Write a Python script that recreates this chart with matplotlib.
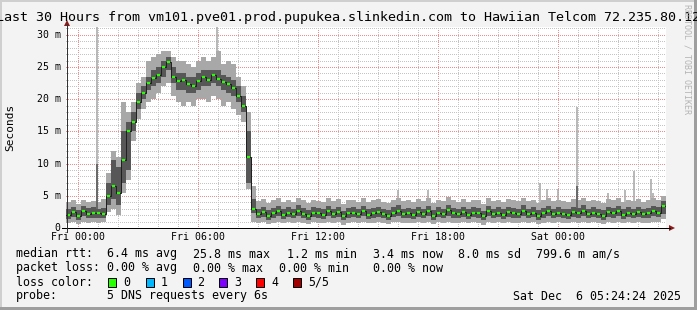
import matplotlib
matplotlib.use('Agg')
import matplotlib.pyplot as plt
import numpy as np
from matplotlib.lines import Line2D
from matplotlib.patches import Polygon, Rectangle

# ---------------- data (15-minute bins, hours relative to Fri 00:00) ----------------
bin_start = -0.6
bin_hours = 0.25

median_ms = [2.0, 2.5, 1.9, 2.6, 2.1, 2.4, 2.3, 2.2,
             5.0, 6.5, 5.5, 10.5, 15.0, 16.5, 19.5, 21.0, 22.5, 23.3,
             23.8, 25.0, 25.8, 23.5, 22.8, 23.0, 22.3, 22.0, 22.8, 23.5,
             23.0, 23.8, 23.2, 22.6, 22.3, 21.8, 20.5, 19.0, 11.0, 3.0,
             2.2, 2.5, 1.9, 2.3, 2.6, 2.0, 2.4, 2.1, 2.7, 2.2,
             1.9, 2.4, 2.3, 2.0, 2.6, 2.2, 2.5, 1.8, 2.3, 2.4,
             2.1, 2.6, 2.0, 2.3, 2.5, 2.2, 1.9, 2.4, 2.7, 2.1,
             2.3, 2.0, 2.5, 2.2, 2.6, 1.9, 2.4, 2.2, 2.8, 2.3,
             2.1, 2.5, 2.0, 2.4, 2.3, 1.8, 2.6, 2.2, 2.4, 2.0,
             2.5, 2.3, 2.1, 2.7, 2.2, 2.4, 1.9, 2.3, 2.6, 2.1,
             2.4, 2.2, 2.0, 2.5, 2.3, 2.7, 2.1, 2.4, 2.2, 1.9,
             2.5, 2.3, 2.6, 2.0, 2.4, 2.2, 2.5, 2.1, 2.3, 2.6,
             2.4, 3.4]

q_low_ms = [1.4, 1.7, 1.3, 1.8, 1.5, 1.6, 1.5, 1.5,
            3.5, 4.5, 3.5, 7.0, 9.0, 15.0, 18.5, 20.0, 21.5, 22.0,
            22.5, 23.5, 24.5, 22.5, 21.5, 21.5, 21.0, 21.0, 21.5, 22.0,
            22.0, 22.5, 22.0, 21.5, 21.0, 20.5, 19.5, 18.0, 7.0, 2.3,
            1.5, 1.7, 1.3, 1.6, 1.8, 1.4, 1.7, 1.5, 1.9, 1.6,
            1.3, 1.7, 1.6, 1.4, 1.8, 1.5, 1.7, 1.3, 1.6, 1.7,
            1.5, 1.8, 1.4, 1.6, 1.7, 1.5, 1.3, 1.7, 1.9, 1.5,
            1.6, 1.4, 1.7, 1.5, 1.8, 1.3, 1.7, 1.5, 1.9, 1.6,
            1.5, 1.7, 1.4, 1.7, 1.6, 1.3, 1.8, 1.5, 1.7, 1.4,
            1.7, 1.6, 1.5, 1.9, 1.5, 1.7, 1.3, 1.6, 1.8, 1.5,
            1.7, 1.5, 1.4, 1.7, 1.6, 1.9, 1.5, 1.7, 1.5, 1.3,
            1.7, 1.6, 1.8, 1.4, 1.7, 1.5, 1.7, 1.5, 1.6, 1.8,
            1.7, 2.2]

q_high_ms = [3.0, 3.3, 2.8, 3.4, 3.1, 3.2, 3.0, 3.1,
             7.0, 10.5, 9.5, 15.0, 16.5, 18.0, 21.0, 22.0, 23.5, 24.5,
             25.0, 26.0, 26.5, 25.0, 24.0, 24.0, 23.5, 23.5, 24.0, 24.5,
             24.5, 24.5, 24.5, 23.8, 23.5, 23.0, 22.0, 20.5, 15.0, 4.5,
             3.0, 3.3, 2.8, 3.1, 3.4, 2.9, 3.2, 3.0, 3.5, 3.1,
             2.8, 3.2, 3.1, 2.9, 3.4, 3.0, 3.3, 2.7, 3.1, 3.2,
             3.0, 3.4, 2.9, 3.1, 3.3, 3.0, 2.8, 3.2, 3.5, 3.0,
             3.1, 2.9, 3.3, 3.0, 3.4, 2.8, 3.2, 3.0, 3.6, 3.1,
             3.0, 3.3, 2.9, 3.2, 3.1, 2.7, 3.4, 3.0, 3.2, 2.9,
             3.3, 3.1, 3.0, 3.5, 3.0, 3.2, 2.8, 3.1, 3.4, 3.0,
             3.2, 3.0, 2.9, 3.3, 3.1, 3.5, 3.0, 3.2, 3.0, 2.8,
             3.3, 3.1, 3.4, 2.9, 3.2, 3.0, 3.3, 3.0, 3.1, 3.4,
             3.2, 4.2]

min_ms = [0.8, 0.9, 0.6, 1.0, 0.8, 0.9, 0.7, 0.9,
          2.5, 3.0, 2.0, 5.5, 7.5, 13.5, 17.0, 18.5, 19.5, 20.0,
          21.0, 22.0, 22.5, 20.5, 19.5, 19.0, 19.5, 19.0, 20.0, 20.0,
          19.5, 20.5, 20.0, 19.0, 19.5, 18.5, 17.5, 16.5, 6.0, 1.0,
          0.8, 0.9, 0.6, 0.8, 1.0, 0.7, 0.9, 0.8, 1.0, 0.8,
          0.6, 0.9, 0.8, 0.7, 1.0, 0.8, 0.9, 0.5, 0.8, 0.9,
          0.7, 1.0, 0.7, 0.8, 0.9, 0.8, 0.6, 0.9, 1.0, 0.7,
          0.8, 0.7, 0.9, 0.8, 1.0, 0.6, 0.9, 0.8, 1.0, 0.8,
          0.7, 0.9, 0.7, 0.9, 0.8, 0.5, 1.0, 0.8, 0.9, 0.7,
          0.9, 0.8, 0.7, 1.0, 0.7, 0.9, 0.6, 0.8, 1.0, 0.7,
          0.9, 0.8, 0.7, 0.9, 0.8, 1.0, 0.7, 0.9, 0.8, 0.6,
          0.9, 0.8, 1.0, 0.7, 0.9, 0.8, 0.9, 0.7, 0.8, 1.0,
          0.9, 1.4]

max_ms = [4.0, 4.3, 3.8, 4.4, 4.1, 4.2, 4.0, 4.5,
          8.5, 12.0, 11.0, 19.5, 18.0, 19.5, 22.5, 23.5, 26.0, 26.5,
          27.0, 27.5, 27.5, 26.5, 26.0, 26.0, 25.5, 25.0, 26.0, 26.5,
          26.0, 26.5, 27.5, 25.5, 26.0, 25.5, 23.5, 22.0, 18.0, 6.5,
          4.2, 4.5, 3.9, 4.3, 4.6, 4.0, 4.4, 4.1, 4.7, 4.3,
          3.9, 4.4, 4.2, 4.0, 4.6, 4.2, 4.5, 3.8, 4.3, 4.4,
          4.1, 4.6, 4.0, 4.3, 4.5, 4.1, 3.9, 4.4, 4.7, 4.2,
          4.3, 4.0, 4.5, 4.2, 4.6, 3.9, 4.4, 4.2, 4.8, 4.3,
          4.1, 4.5, 4.0, 4.4, 4.3, 3.8, 4.6, 4.2, 4.4, 4.0,
          4.5, 4.3, 4.2, 4.7, 4.2, 4.4, 3.9, 4.3, 4.6, 4.2,
          4.4, 4.2, 4.0, 4.5, 4.3, 4.7, 4.2, 4.4, 4.2, 3.9,
          4.5, 4.3, 4.6, 4.0, 4.4, 4.2, 4.5, 4.1, 4.3, 4.6,
          4.4, 5.0]

# isolated outliers (hour, max ms, dark-part ms)
spike_hour = [0.95, 6.95, 16.0, 17.5, 23.1, 23.45, 24.0, 24.95, 26.5, 27.35, 27.8, 28.65, 28.75]
spike_top = [32.0, 32.0, 5.9, 5.9, 7.0, 6.0, 6.0, 18.8, 5.5, 5.9, 8.9, 7.6, 5.5]
spike_dark = [10.0, 0.0, 0.0, 0.0, 0.0, 0.0, 0.0, 6.5, 0.0, 0.0, 0.0, 0.0, 0.0]

xtick_hours = [0, 6, 12, 18, 24]
xtick_labels = ['Fri 00:00', 'Fri 06:00', 'Fri 12:00', 'Fri 18:00', 'Sat 00:00']
ytick_values = [0, 5, 10, 15, 20, 25, 30]
ytick_labels = ['0', '5 m', '10 m', '15 m', '20 m', '25 m', '30 m']

title = 'Last 30 Hours from vm101.pve01.prod.pupukea.slinkedin.com to Hawiian Telcom 72.235.80.12'
loss_labels = ['0', '1', '2', '3', '4', '5/5']
loss_colors = ['#26ff00', '#00b8ff', '#0059ff', '#7e00ff', '#ff0000', '#a10000']

# ---------------- figure ----------------
W, H = 697, 310
MONO = 'DejaVu Sans Mono'
BG = '#f3f3f3'
fig = plt.figure(figsize=(W / 100, H / 100), dpi=100, facecolor=BG)


def fx(x):
    return x / W


def fy(y):
    return 1 - y / H


PX = 0.72  # one pixel in points

# frame shading
fig.add_artist(Rectangle((0, fy(2)), 1, 2 / H, transform=fig.transFigure, color='#cfcfcf', lw=0))
fig.add_artist(Rectangle((0, 0), 2 / W, 1, transform=fig.transFigure, color='#cfcfcf', lw=0))
fig.add_artist(Rectangle((0, 0), 1, 3 / H, transform=fig.transFigure, color='#9e9e9e', lw=0))
fig.add_artist(Rectangle((fx(694), 0), 3 / W, 1, transform=fig.transFigure, color='#9e9e9e', lw=0))

AX_L, AX_R, AX_T, AX_B = 66, 666, 27, 228
ax = fig.add_axes([fx(AX_L), fy(AX_B), (AX_R - AX_L) / W, (AX_B - AX_T) / H])
ax.set_facecolor('white')
px_per_ms = 32.2 / 5
ax.set_xlim(-0.6, 29.4)
ax.set_ylim(0, (AX_B - AX_T) / px_per_ms)
for s in ax.spines.values():
    s.set_visible(False)
ax.set_xticks([])
ax.set_yticks([])

# grid (dotted)
MINOR = '#c4c4c4'
MAJOR = '#f08c8c'
DOT = (0, (1, 2))
for h in range(0, 30):
    ax.axvline(h, color=MAJOR if h % 6 == 0 else MINOR, lw=PX, ls=DOT, zorder=1,
               antialiased=False)
for v in range(1, 32):
    ax.axhline(v, color=MAJOR if v % 5 == 0 else MINOR, lw=PX, ls=DOT, zorder=1,
               antialiased=False)

n = len(median_ms)
edges = bin_start + bin_hours * np.arange(n + 1)
centers = edges[:-1] + bin_hours / 2


def ext(a):
    a = list(a)
    return np.array(a + [a[-1]])


LIGHT = '#a8a8a8'
DARK = '#575757'
ax.fill_between(edges, ext(min_ms), ext(max_ms), step='post', color=LIGHT, lw=0, zorder=2)
# spikes start from the top of the band of the bin they fall in
spike_bin = [min(int((h - bin_start) / bin_hours), n - 1) for h in spike_hour]
spike_base = [max_ms[b] - 0.5 for b in spike_bin]
ax.vlines(spike_hour, spike_base, spike_top, color=LIGHT, lw=1.6 * PX, zorder=2)
ax.fill_between(edges, ext(q_low_ms), ext(q_high_ms), step='post', color=DARK, lw=0, zorder=3)
sd_h = [h for h, d in zip(spike_hour, spike_dark) if d > 0]
sd_b = [q_high_ms[b] - 0.3 for b, d in zip(spike_bin, spike_dark) if d > 0]
sd_v = [d for d in spike_dark if d > 0]
ax.vlines(sd_h, sd_b, sd_v, color=DARK, lw=1.6 * PX, zorder=3)
ax.step(edges, ext(median_ms), where='post', color='#202020', lw=PX, zorder=4)
ax.hlines(median_ms, centers - 0.07, centers + 0.07, color='#26ff00', lw=2.2 * PX, zorder=5)

# axes lines and arrows (pixel coordinates)
fig.add_artist(Line2D([fx(62), fx(670)], [fy(228), fy(228)], transform=fig.transFigure, color='black', lw=PX))
fig.add_artist(Line2D([fx(67), fx(67)], [fy(232), fy(24)], transform=fig.transFigure, color='#333333', lw=PX))
fig.add_artist(Polygon([[fx(669), fy(225)], [fx(669), fy(231)], [fx(675), fy(228)]],
                       closed=True, transform=fig.transFigure, color='#8b1a1a', lw=0))
fig.add_artist(Polygon([[fx(64), fy(26)], [fx(70), fy(26)], [fx(67), fy(20)]],
                       closed=True, transform=fig.transFigure, color='#8b1a1a', lw=0))

# tick labels
for h, lab in zip(xtick_hours, xtick_labels):
    fig.text(fx(78 + 20 * h), fy(237.5), lab, ha='center', va='center', fontsize=7.1,
             family=MONO, color='black')
for v, lab in zip(ytick_values, ytick_labels):
    fig.text(fx(60.5), fy(228 - v * px_per_ms), lab, ha='right', va='center', fontsize=7.1,
             family=MONO, color='black')
fig.text(fx(10), fy(127), 'Seconds', rotation=90, ha='center', va='center', fontsize=8.0,
         family=MONO, color='black')

# title and watermark
fig.text(fx(348.5), fy(17.5), title, ha='center', va='center', fontsize=9.6, family=MONO, color='black')
fig.text(fx(687), fy(59), 'RRDTOOL / TOBI OETIKER', rotation=270, ha='center', va='center',
         fontsize=6.0, family=MONO, color='#b4b4b4')

# legend
LF = 8.4
rows = [
    (254, [(16, 'median rtt:  6.4 ms avg'), (193, '25.8 ms max'), (287, '1.2 ms min'),
           (372.7, '3.4 ms now'), (458.5, '8.0 ms sd'), (536.5, '799.6 m am/s')]),
    (268, [(16, 'packet loss: 0.00 % avg'), (193, '0.00 % max'), (279, '0.00 % min'),
           (372.7, '0.00 % now')]),
    (282, [(16, 'loss color:')]),
    (296, [(16, 'probe:'), (107, '5 DNS requests every 6s'), (513, 'Sat Dec  6 05:24:24 2025')]),
]
for y, items in rows:
    for x, s in items:
        fig.text(fx(x), fy(y), s, ha='left', va='center', fontsize=LF, family=MONO, color='black')

box_x = [108, 145.5, 182.5, 219, 256, 293]
for bx, col, lab in zip(box_x, loss_colors, loss_labels):
    fig.add_artist(Rectangle((fx(bx), fy(286.5)), 8 / W, 9 / H, transform=fig.transFigure,
                             facecolor=col, edgecolor='black', lw=PX))
    fig.text(fx(bx + 15), fy(282), lab, ha='left', va='center', fontsize=LF, family=MONO, color='black')

fig.savefig('out.png', dpi=100, facecolor=BG)
